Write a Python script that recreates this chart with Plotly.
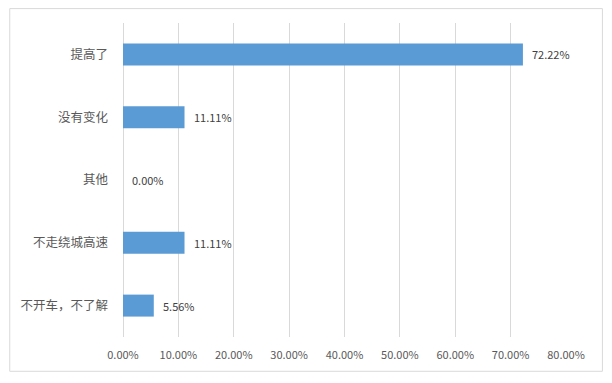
import plotly.graph_objects as go

categories = ["提高了", "没有变化", "其他", "不走绕城高速", "不开车，不了解"]
values = [0.7222, 0.1111, 0.0, 0.1111, 0.0556]
x_ticks = [0, 0.1, 0.2, 0.3, 0.4, 0.5, 0.6, 0.7, 0.8]
x_tick_labels = ["0.00%", "10.00%", "20.00%", "30.00%", "40.00%", "50.00%", "60.00%", "70.00%", "80.00%"]

# page has an 8px body margin; figure occupies page x 8..604, y 8..374
W, H = 596, 366
L, R, T, B = 114, 38, 15, 35
pw, ph = W - L - R, H - T - B

fig = go.Figure()
fig.add_trace(go.Bar(
    y=categories, x=values, orientation="h",
    marker=dict(color="#5B9BD5", line=dict(width=0)),
    width=0.35, hoverinfo="skip",
))

for c, v in zip(categories, values):
    fig.add_annotation(x=v, y=c, xref="x", yref="y", text=f"{v*100:.2f}%",
                       showarrow=False, xanchor="left", xshift=7,
                       font=dict(family="Noto Sans CJK SC", size=11, color="#404040"))

# outer border around the whole chart
fig.add_shape(type="rect", xref="paper", yref="paper",
              x0=(-L + 0.5) / pw, x1=1 + (R - 1.5) / pw,
              y0=(-B + 0.5) / ph, y1=1 + (T - 0.5) / ph,
              line=dict(color="#D9D9D9", width=1), fillcolor="rgba(0,0,0,0)", layer="below")

fig.update_layout(
    width=W, height=H,
    margin=dict(l=L, r=R, t=T, b=B, pad=0),
    paper_bgcolor="white", plot_bgcolor="white",
    showlegend=False,
    font=dict(family="Noto Sans CJK SC", color="#595959"),
    xaxis=dict(range=[0, 0.8], tickvals=x_ticks, ticktext=x_tick_labels,
               showgrid=True, gridcolor="#D9D9D9", gridwidth=1,
               zeroline=True, zerolinecolor="#D9D9D9", zerolinewidth=1,
               showline=False, ticks="", ticklabelstandoff=10,
               tickfont=dict(size=11, color="#595959"), fixedrange=True),
    yaxis=dict(categoryorder="array", categoryarray=categories, autorange="reversed",
               showgrid=False, zeroline=False, showline=False, ticks="",
               ticklabelstandoff=14,
               tickfont=dict(size=12.5, color="#595959"), fixedrange=True),
)

fig.write_html("out.html")
